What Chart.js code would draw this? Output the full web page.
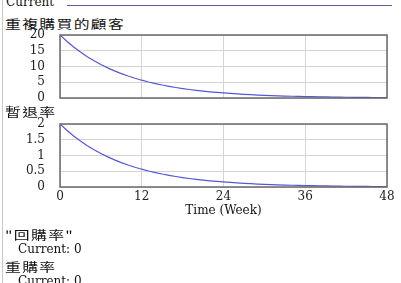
<!DOCTYPE html>
<html>
<head>
<meta charset="utf-8">
<script src="https://cdn.jsdelivr.net/npm/chart.js@4.4.1/dist/chart.umd.min.js"></script>
<style>
body { margin: 0; width: 401px; height: 283px; overflow: hidden; background: #fff; position: relative; font-family: 'DejaVu Serif', serif; }
.txt { position: absolute; white-space: nowrap; color: #111; line-height: 1; }
.cjk { font-family: 'Noto Sans CJK TC', sans-serif; font-size: 12px; letter-spacing: 1px; transform: scaleX(1.32); transform-origin: 0 50%; }
.cur { font-family: 'DejaVu Serif', serif; font-size: 12px; }
#leftBar { position: absolute; left: 2px; top: 0; width: 1px; height: 283px; background: #c8c8c8; }
#topLine { position: absolute; left: 67px; top: 5px; width: 325px; height: 1px; background: #5a5aa8; }
canvas { position: absolute; left: 0; }
</style>
</head>
<body>
<div id="leftBar"></div>
<div class="txt cur" style="left:6px; top:-4px;">Current</div>
<div id="topLine"></div>
<div class="txt cjk" style="left:5px; top:18px;">重複購買的顧客</div>
<canvas id="chart1" width="401" height="81" style="top:26px;"></canvas>
<div class="txt cjk" style="left:5px; top:106px;">暫退率</div>
<canvas id="chart2" width="401" height="103" style="top:115px;"></canvas>
<div class="txt cjk" style="left:5px; top:229px;">"回購率"</div>
<div class="txt cur" style="left:18px; top:243px;">Current: 0</div>
<div class="txt cjk" style="left:5px; top:261px;">重購率</div>
<div class="txt cur" style="left:18px; top:275px;">Current: 0</div>
<script>
// weeks 0..48
const weeks = [0,1,2,3,4,5,6,7,8,9,10,11,12,13,14,15,16,17,18,19,20,21,22,23,24,25,26,27,28,29,30,31,32,33,34,35,36,37,38,39,40,41,42,43,44,45,46,47,48];
// 重複購買的顧客
const customers = [20,18,16.2,14.58,13.12,11.81,10.63,9.57,8.61,7.75,6.97,6.28,5.65,5.08,4.58,4.12,3.71,3.34,3.0,2.7,2.43,2.19,1.97,1.77,1.6,1.44,1.29,1.16,1.05,0.94,0.85,0.76,0.69,0.62,0.56,0.5,0.45,0.41,0.36,0.33,0.3,0.27,0.24,0.22,0.19,0.17,0.16,0.14,0.13];
// 暫退率
const returnRate = [2,1.8,1.62,1.458,1.312,1.181,1.063,0.957,0.861,0.775,0.697,0.628,0.565,0.508,0.458,0.412,0.371,0.334,0.3,0.27,0.243,0.219,0.197,0.177,0.16,0.144,0.129,0.116,0.105,0.094,0.085,0.076,0.069,0.062,0.056,0.05,0.045,0.041,0.036,0.033,0.03,0.027,0.024,0.022,0.019,0.017,0.016,0.014,0.013];
const xTicks = [0,12,24,36,48];

const tickFont = {family: 'DejaVu Serif', size: 12};

// draw frame around plot area
const framePlugin = {
  id: 'frame',
  afterDraw(chart) {
    const a = chart.chartArea;
    const c = chart.ctx;
    c.save();
    c.strokeStyle = '#6a6a6a';
    c.lineWidth = 1.5;
    c.strokeRect(a.left, a.top, a.right - a.left, a.bottom - a.top);
    c.restore();
  }
};

function makeChart(id, values, yMax, yStep, showX, pad, xHeight) {
  const ctx = document.getElementById(id).getContext('2d');
  return new Chart(ctx, {
    type: 'line',
    data: {
      datasets: [{
        data: weeks.map((w, i) => ({x: w, y: values[i]})),
        borderColor: '#5656d6',
        borderWidth: 1.2,
        pointRadius: 0,
        fill: false,
        tension: 0
      }]
    },
    options: {
      responsive: false,
      animation: false,
      layout: {padding: pad},
      plugins: {legend: {display: false}, tooltip: {enabled: false}},
      scales: {
        x: {
          type: 'linear',
          min: 0, max: 48,
          afterBuildTicks: s => { s.ticks = xTicks.map(v => ({value: v})); },
          afterFit: s => { s.height = xHeight; },
          grid: {color: '#d4d4d4', drawTicks: false},
          border: {display: false},
          ticks: {display: showX, font: tickFont, color: '#222', padding: 3, maxRotation: 0},
          title: {display: showX, text: 'Time (Week)', font: tickFont, color: '#111', padding: 0}
        },
        y: {
          min: 0, max: yMax,
          afterBuildTicks: s => {
            const t = [];
            for (let v = 0; v <= yMax + 1e-9; v += yStep) t.push({value: v});
            s.ticks = t;
          },
          afterFit: s => { s.width = 60; },
          grid: {color: '#d4d4d4', drawTicks: true, tickLength: 14, tickColor: 'rgba(0,0,0,0)'},
          border: {display: false},
          ticks: {autoSkip: false, font: tickFont, color: '#222', padding: 1,
                  callback: v => String(v)}
        }
      }
    },
    plugins: [framePlugin]
  });
}

makeChart('chart1', customers, 20, 5, false, {top: 9, bottom: 7, left: 0, right: 14}, 2);
makeChart('chart2', returnRate, 2, 0.5, true, {top: 9, bottom: 0, left: 0, right: 14}, 31);
</script>
</body>
</html>
